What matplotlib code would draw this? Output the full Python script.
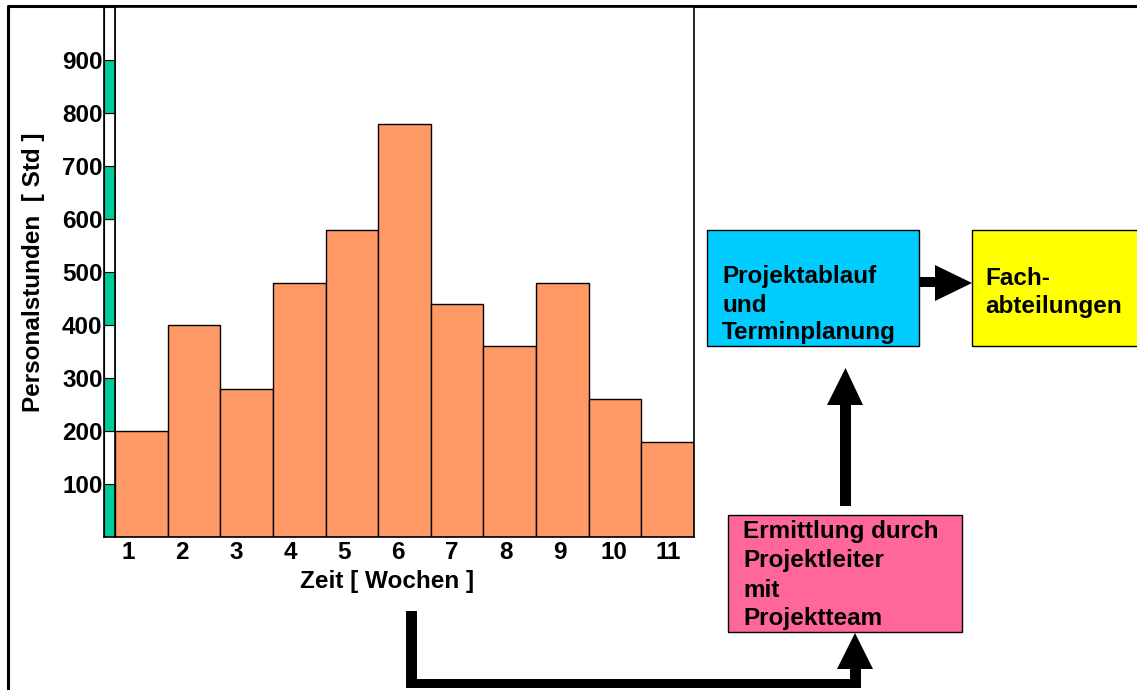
import matplotlib
matplotlib.use("Agg")
import matplotlib.pyplot as plt
from matplotlib.patches import Rectangle, Polygon

plt.rcParams['font.family'] = ['Liberation Sans', 'DejaVu Sans']
plt.rcParams['font.weight'] = 'bold'

weeks = ['1', '2', '3', '4', '5', '6', '7', '8', '9', '10', '11']
hours = [200, 400, 280, 480, 580, 780, 440, 360, 480, 260, 180]
yticks = [100, 200, 300, 400, 500, 600, 700, 800, 900]
ylabel = 'Personalstunden  [ Std ]'
xlabel = 'Zeit [ Wochen ]'
box_blue = ['Projektablauf', 'und', 'Terminplanung']
box_yellow = ['Fach-', 'abteilungen']
box_pink = ['Ermittlung durch', 'Projektleiter', 'mit', 'Projektteam']

W, H = 1137, 690
fig = plt.figure(figsize=(W / 100, H / 100), dpi=100)
FS = 17.5

def fa(x0, y0, x1, y1):
    return [x0 / W, 1 - y1 / H, (x1 - x0) / W, (y1 - y0) / H]

# overlay axes in pixel coords
ov = fig.add_axes([0, 0, 1, 1], zorder=0)
ov.set_xlim(0, W)
ov.set_ylim(H, 0)
ov.axis('off')

# outer frame
ov.plot([8, 8, W + 5], [H + 5, 6, 6], color='black', lw=2.2, solid_capstyle='butt')

# main chart
ax = fig.add_axes(fa(115, 7, 694, 537), zorder=2)
n = len(hours)
xs = list(range(n))
ax.bar(xs, hours, width=1, align='edge', color='#FF9966', edgecolor='black', linewidth=1)
ax.set_xlim(0, n)
ax.set_ylim(0, 1000)
ax.set_yticks([])
# tick labels in the original are spread slightly wider than the bar centres
tick_pos = [0.25 + i * (10.26 / (n - 1)) for i in xs]
ax.set_xticks(tick_pos)
ax.set_xticklabels(weeks, fontsize=FS, fontweight='bold')
ax.tick_params(axis='x', length=0, pad=3)
for s in ax.spines.values():
    s.set_linewidth(1.2)
ax.set_xlabel(xlabel, fontsize=FS, fontweight='bold')
ax.xaxis.set_label_coords(0.47, -0.062)

# colored strip on the left
st = fig.add_axes(fa(104, 7, 115, 537), zorder=2)
st.set_xlim(0, 1)
st.set_ylim(0, 1000)
for i in range(10):
    c = '#00CC99' if i % 2 == 0 else 'white'
    st.add_patch(Rectangle((0, i * 100), 1, 100, facecolor=c, edgecolor='black', linewidth=0.8))
st.set_xticks([])
st.set_yticks(yticks)
st.set_yticklabels([str(t) for t in yticks], fontsize=FS, fontweight='bold')
st.tick_params(axis='y', length=0, pad=1)
for s in st.spines.values():
    s.set_linewidth(1.2)
st.set_ylabel(ylabel, fontsize=FS, fontweight='bold', labelpad=12)

# boxes
def box(x0, y0, x1, y1, color, lines, tx, baselines):
    ov.add_patch(Rectangle((x0, y0), x1 - x0, y1 - y0, facecolor=color, edgecolor='black', linewidth=1, zorder=3))
    for t, by in zip(lines, baselines):
        ov.text(tx, by, t, fontsize=FS, fontweight='bold', ha='left', va='baseline', zorder=4)

box(707, 230, 919, 346, '#00CCFF', box_blue, 722, [283, 312, 339])
box(972, 230, 1145, 346, '#FFFF00', box_yellow, 985, [285, 313])
box(728, 515, 962, 632, '#FF6699', box_pink, 743, [538, 567, 597, 625])

def poly(pts):
    ov.add_patch(Polygon(pts, closed=True, facecolor='black', edgecolor='none', zorder=5))

# right arrow blue -> yellow
poly([(919, 277), (935, 277), (935, 265), (972, 283), (935, 301), (935, 287), (919, 287)])
# up arrow pink -> blue
poly([(840, 506), (840, 405), (827, 405), (845.5, 368), (863, 405), (851, 405), (851, 506)])
# bottom connector
poly([(406, 611), (417, 611), (417, 679), (850, 679), (850, 669), (837, 669), (855, 633),
      (873, 669), (861, 669), (861, 688), (406, 688)])

fig.savefig('out.png', dpi=100)
